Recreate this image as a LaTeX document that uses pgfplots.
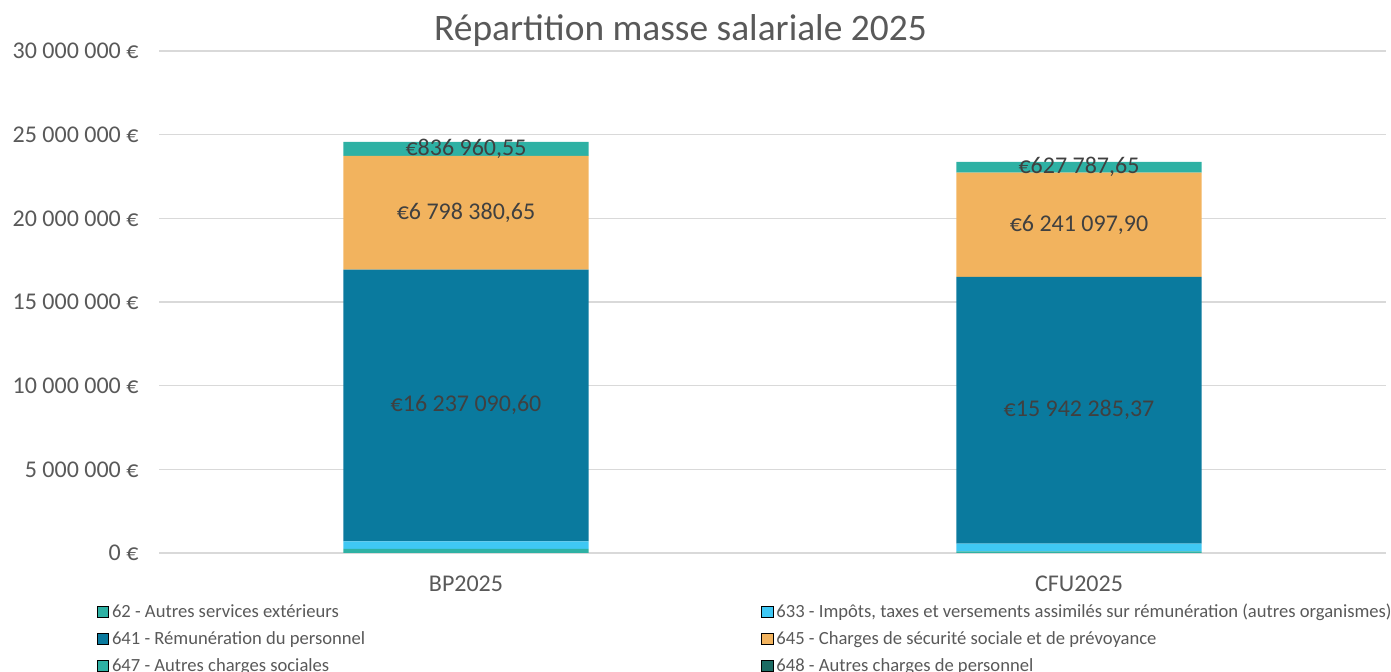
\documentclass[border=0pt]{standalone}
\usepackage{pgfplots}
\pgfplotsset{compat=1.18}
\usepackage{fontspec}
\setmainfont{Carlito}
\definecolor{c62}{HTML}{2EB1A4}
\definecolor{c633}{HTML}{3FC8F4}
\definecolor{c641}{HTML}{0A7A9E}
\definecolor{c645}{HTML}{F2B35E}
\definecolor{c647}{HTML}{2EB1A4}
\definecolor{c648}{HTML}{1B6B63}
\definecolor{txt}{HTML}{595959}
\definecolor{lbl}{HTML}{404040}
\begin{document}
\begin{tikzpicture}
\path[use as bounding box] (-79.75pt,-59.5pt) rectangle (615.75pt,276.5pt);
\begin{axis}[
  at={(0,0)}, anchor=south west,
  scale only axis, width=613pt, height=251pt,
  ybar stacked, bar width=0.4,
  xmin=-0.5, xmax=1.5, ymin=0, ymax=30000000,
  scaled y ticks=false,
  xtick={0,1}, xticklabels={BP2025,CFU2025},
  ytick={0,5000000,10000000,15000000,20000000,25000000,30000000},
  yticklabels={0 €,5 000 000 €,10 000 000 €,15 000 000 €,20 000 000 €,25 000 000 €,30 000 000 €},
  axis line style={draw=none},
  major tick length=0pt,
  ymajorgrids, grid style={color=black!15, line width=0.75pt},
  ticklabel style={font=\fontsize{12}{14}\selectfont, text=txt},
  yticklabel style={xshift=-7pt},
  xticklabel style={yshift=-8pt},
  legend columns=2,
  legend cell align=left,
  legend style={at={(axis description cs:-0.0512,-0.0936)}, anchor=north west,
    inner sep=0pt, outer sep=0pt,
    draw=none, fill=none, font=\fontsize{9.3}{11}\selectfont, text=txt,
    nodes={inner xsep=1.5pt, inner ysep=1pt, text height=8pt, text depth=2pt},
    row sep=1.5pt,
    /tikz/column 2/.style={column sep=196.5pt}},
  legend image code/.code={\fill[#1] (0pt,-2.875pt) rectangle (5.75pt,2.875pt);},
  every node near coord/.append style={anchor=center, font=\fontsize{12}{14}\selectfont, text=lbl},
]
% stacked bottom to top
\addplot[fill=c647, draw=none, forget plot] coordinates {(0,240000) (1,100000)};
\addplot[fill=c633, draw=none, forget plot] coordinates {(0,460000) (1,455000)};
\addplot[fill=c641, draw=none, forget plot, nodes near coords, point meta=explicit symbolic]
  coordinates {(0,16237090.60) [€16 237 090,60] (1,15942285.37) [€15 942 285,37]};
\addplot[fill=c645, draw=none, forget plot, nodes near coords, point meta=explicit symbolic]
  coordinates {(0,6798380.65) [€6 798 380,65] (1,6241097.90) [€6 241 097,90]};
\addplot[fill=c62, draw=none, forget plot, nodes near coords, point meta=explicit symbolic]
  coordinates {(0,836960.55) [€836 960,55] (1,627787.65) [€627 787,65]};
\addplot[fill=c648, draw=none, forget plot] coordinates {(0,0) (1,0)};
% legend in reference order
\addlegendimage{fill=c62}
\addlegendentry{62 - Autres services extérieurs}
\addlegendimage{fill=c633}
\addlegendentry{633 - Impôts, taxes et versements assimilés sur rémunération (autres organismes)}
\addlegendimage{fill=c641}
\addlegendentry{641 - Rémunération du personnel}
\addlegendimage{fill=c645}
\addlegendentry{645 - Charges de sécurité sociale et de prévoyance}
\addlegendimage{fill=c647}
\addlegendentry{647 - Autres charges sociales}
\addlegendimage{fill=c648}
\addlegendentry{648 - Autres charges de personnel}
\end{axis}
\node[font=\fontsize{18.7}{22}\selectfont, text=txt] at (260.5pt,261pt) {Répartition masse salariale 2025};
\end{tikzpicture}
\end{document}
